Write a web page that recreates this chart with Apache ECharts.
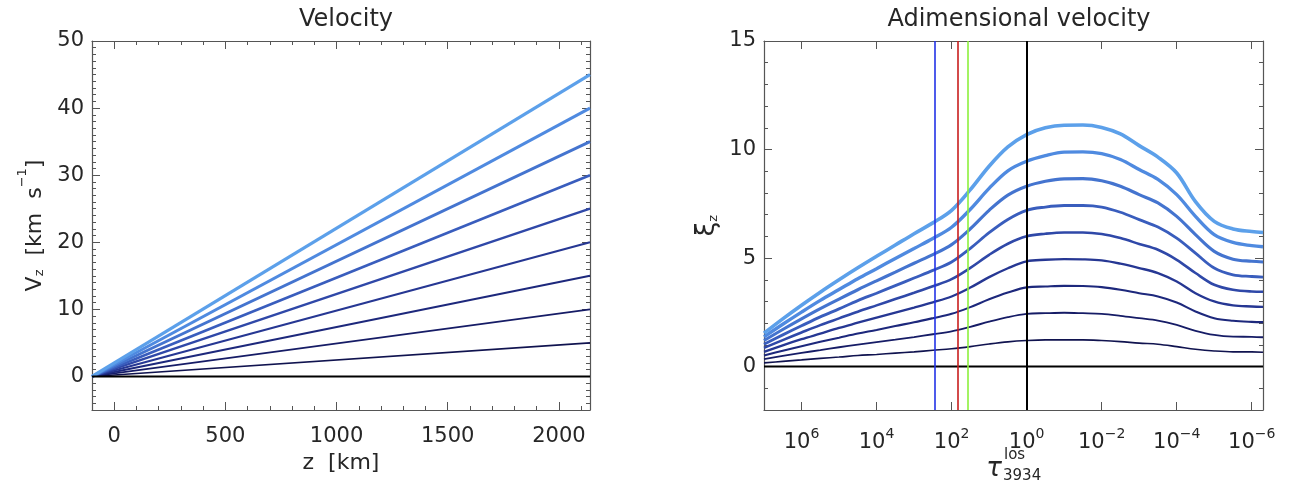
<!DOCTYPE html>
<html>
<head>
<meta charset="utf-8">
<title>Velocity</title>
<script src="https://cdn.jsdelivr.net/npm/echarts@6/dist/echarts.min.js"></script>
<style>html,body{margin:0;background:#fff;}</style>
</head>
<body>
<div id="main" style="width:1290px;height:495px;"></div>
<script type="text/javascript">

// ---- left panel: V_z against z ----
var zRange = [-100, 2140];
var vzEnd = [0, 5, 10, 15, 20, 25, 30, 35, 40, 45];

// ---- right panel: xi_z against log10(tau_3934) ----
var logTau = [7, 6.5, 6, 5.5, 5, 4.5, 4, 3.5, 3, 2.5, 2, 1.5, 1, 0.5,
              0, -0.5, -1, -1.5, -2, -2.5, -3, -3.5, -4, -4.5, -5, -5.5, -6, -6.3];
var xi1 = [0.17, 0.24, 0.31, 0.38, 0.44, 0.51, 0.56, 0.62, 0.68, 0.75, 0.82, 0.92, 1.04, 1.14,
           1.20, 1.23, 1.23, 1.23, 1.20, 1.15, 1.08, 1.03, 0.92, 0.80, 0.72, 0.68, 0.68, 0.66];
var xi2 = [0.34, 0.49, 0.63, 0.76, 0.89, 1.01, 1.13, 1.24, 1.36, 1.49, 1.62, 1.83, 2.07, 2.28,
           2.43, 2.46, 2.48, 2.46, 2.43, 2.34, 2.23, 2.12, 1.92, 1.65, 1.46, 1.38, 1.37, 1.35];
var xi3 = [0.51, 0.73, 0.94, 1.14, 1.33, 1.52, 1.69, 1.87, 2.04, 2.23, 2.43, 2.74, 3.10, 3.41,
           3.65, 3.69, 3.72, 3.71, 3.66, 3.54, 3.38, 3.23, 2.95, 2.54, 2.23, 2.11, 2.06, 2.05];
var xi4 = [0.68, 0.98, 1.26, 1.52, 1.78, 2.02, 2.26, 2.49, 2.72, 2.96, 3.23, 3.64, 4.12, 4.53,
           4.85, 4.92, 4.95, 4.94, 4.89, 4.74, 4.54, 4.31, 3.92, 3.38, 3.00, 2.82, 2.77, 2.75];
var xi5 = [0.86, 1.22, 1.57, 1.91, 2.22, 2.53, 2.82, 3.11, 3.40, 3.70, 4.03, 4.55, 5.15, 5.66,
           6.00, 6.12, 6.18, 6.18, 6.11, 5.92, 5.65, 5.38, 4.92, 4.31, 3.77, 3.54, 3.46, 3.45];
var xi6 = [1.03, 1.46, 1.88, 2.29, 2.66, 3.04, 3.38, 3.73, 4.08, 4.43, 4.82, 5.45, 6.17, 6.78,
           7.20, 7.35, 7.42, 7.42, 7.35, 7.11, 6.77, 6.43, 5.92, 5.23, 4.54, 4.23, 4.15, 4.12];
var xi7 = [1.20, 1.71, 2.20, 2.67, 3.11, 3.54, 3.95, 4.35, 4.76, 5.16, 5.62, 6.35, 7.20, 7.90,
           8.31, 8.54, 8.65, 8.66, 8.56, 8.31, 7.92, 7.54, 6.92, 6.08, 5.31, 4.95, 4.85, 4.82];
var xi8 = [1.37, 1.95, 2.51, 3.05, 3.55, 4.05, 4.51, 4.98, 5.44, 5.90, 6.42, 7.25, 8.21, 9.02,
           9.46, 9.72, 9.88, 9.89, 9.81, 9.54, 9.08, 8.62, 7.92, 6.92, 6.08, 5.72, 5.57, 5.52];
var xi9 = [1.54, 2.20, 2.83, 3.43, 4.00, 4.55, 5.08, 5.60, 6.12, 6.62, 7.20, 8.15, 9.23, 10.12,
           10.69, 11.00, 11.12, 11.13, 11.02, 10.72, 10.18, 9.65, 8.92, 7.60, 6.69, 6.34, 6.22, 6.18];
var xiCurves = [xi1, xi2, xi3, xi4, xi5, xi6, xi7, xi8, xi9];
var tauRange = [-6.3, 7];
var tauMarks = [2.46, 1.83, 1.58, 0];

// styles
var lineColors = ['#000000', '#10134f', '#161c66', '#1d287c', '#263793', '#2f48a8',
                  '#395dbd', '#4474cf', '#4f8ae0', '#5ca0ea'];
var markColors = ['#2233e6', '#c81e1e', '#8cf03c', '#000000'];
var FONT = 'DejaVu Sans';
var INK = '#262626';
var FRAME = '#555';

function supText(s) { return String(s).replace('-', '\u2212'); }

function frameAxis(grid, pos, min, max, o) {
    return {
        type: 'value', gridIndex: grid, position: pos,
        min: min, max: max, inverse: !!o.inverse,
        interval: o.interval, splitNumber: o.split,
        axisLine: {show: !o.minor, onZero: false, lineStyle: {color: FRAME, width: 1.2}},
        axisTick: {show: true, inside: true, length: o.minor ? 4 : 8,
                   lineStyle: {color: FRAME, width: 1}},
        axisLabel: o.label ? o.label : {show: false},
        splitLine: {show: false},
        name: o.name || '', nameLocation: 'middle', nameGap: o.nameGap,
        nameTextStyle: o.nameStyle
    };
}

var tickLabel = {
    show: true, color: INK, fontFamily: FONT, fontSize: 21,
    showMinLabel: false, showMaxLabel: false, margin: 16,
    formatter: function (v) { return String(v); }
};
var yTickLabel = Object.assign({}, tickLabel, {showMaxLabel: true, margin: 8});

var tauLabel = Object.assign({}, tickLabel, {
    margin: 17,
    formatter: function (v) { return '{b|10}{s|' + supText(v) + '}'; },
    rich: {
        b: {fontFamily: FONT, fontSize: 21, color: INK, lineHeight: 26, verticalAlign: 'bottom'},
        s: {fontFamily: FONT, fontSize: 14, color: INK, lineHeight: 14, verticalAlign: 'top'}
    }
});

var nameRich = {
    n: {fontFamily: FONT, fontSize: 22, color: INK, lineHeight: 30, verticalAlign: 'bottom'},
    sub: {fontFamily: FONT, fontSize: 13, color: INK, lineHeight: 13, verticalAlign: 'bottom'},
    sup: {fontFamily: FONT, fontSize: 13, color: INK, lineHeight: 13, verticalAlign: 'top'},
    g: {fontFamily: FONT, fontSize: 26, color: INK, lineHeight: 30, verticalAlign: 'bottom'}
};

var xAxes = [
    frameAxis(0, 'bottom', zRange[0], zRange[1], {split: 4, label: tickLabel,
        name: 'z  [km]', nameGap: 40,
        nameStyle: {fontFamily: FONT, fontSize: 22, color: INK}}),
    frameAxis(0, 'bottom', zRange[0], zRange[1], {minor: true, interval: 100}),
    frameAxis(0, 'top', zRange[0], zRange[1], {split: 4}),
    frameAxis(0, 'top', zRange[0], zRange[1], {minor: true, interval: 100}),
    frameAxis(1, 'bottom', tauRange[0], tauRange[1], {inverse: true, split: 6, label: tauLabel}),
    frameAxis(1, 'top', tauRange[0], tauRange[1], {inverse: true, split: 6})
];

var yAxes = [
    frameAxis(0, 'left', -5, 50, {split: 5, label: yTickLabel,
        name: '{n|V}{sub|z}{n|  [km  s}{sup|\u22121}{n|]}', nameGap: 46,
        nameStyle: {rich: nameRich}}),
    frameAxis(0, 'left', -5, 50, {minor: true, interval: 1}),
    frameAxis(0, 'right', -5, 50, {split: 5}),
    frameAxis(0, 'right', -5, 50, {minor: true, interval: 1}),
    frameAxis(1, 'left', -2, 15, {split: 3, label: yTickLabel,
        name: '{g|\u03be}{sub|z}', nameGap: 44,
        nameStyle: {rich: nameRich}}),
    frameAxis(1, 'left', -2, 15, {minor: true, interval: 1}),
    frameAxis(1, 'right', -2, 15, {split: 3}),
    frameAxis(1, 'right', -2, 15, {minor: true, interval: 1})
];

var series = [];

// straight velocity ramps, all starting at v = 0 on the left edge
vzEnd.forEach(function (v, i) {
    series.push({
        type: 'line', xAxisIndex: 0, yAxisIndex: 0,
        data: [[zRange[0], 0], [zRange[1], v]],
        symbol: 'none', silent: true,
        lineStyle: {color: lineColors[i], width: i === 0 ? 2 : 1.4 + i * 0.2},
        z: i === 0 ? 3 : 2
    });
});

// adimensional velocity curves
xiCurves.forEach(function (arr, i) {
    series.push({
        type: 'line', xAxisIndex: 4, yAxisIndex: 4,
        data: logTau.map(function (t, j) { return [t, arr[j]]; }),
        symbol: 'none', smooth: 0.35, silent: true,
        lineStyle: {color: lineColors[i + 1], width: 1.6 + i * 0.25}
    });
});

// zero line and the vertical tau markers
series.push({
    type: 'line', xAxisIndex: 4, yAxisIndex: 4,
    data: [[tauRange[1], 0], [tauRange[0], 0]],
    symbol: 'none', silent: true, z: 4,
    lineStyle: {color: '#000', width: 2},
    markLine: {
        symbol: ['none', 'none'], silent: true, animation: false,
        label: {show: false},
        data: tauMarks.map(function (t, i) {
            return {xAxis: t, lineStyle: {color: markColors[i], width: i === 3 ? 2 : 1.6, type: 'solid'}};
        })
    }
});

var titleStyle = {fontFamily: FONT, fontSize: 24, fontWeight: 'normal', color: INK};

var option = {
    animation: false,
    backgroundColor: '#fff',
    title: [
        {text: 'Velocity', left: 341, top: 3, textAlign: 'center', textStyle: titleStyle},
        {text: 'Adimensional velocity', left: 1014, top: 3, textAlign: 'center', textStyle: titleStyle}
    ],
    grid: [
        {left: 92, top: 41, width: 498, height: 369},
        {left: 764, top: 41, width: 499, height: 369}
    ],
    xAxis: xAxes,
    yAxis: yAxes,
    series: series,
    // x-axis title of the right panel: tau with stacked "los" / "3934"
    graphic: [
        {type: 'text', x: 994, y: 469, silent: true,
         style: {text: '\u03c4', font: 'italic 26px "DejaVu Sans"', fill: INK,
                 align: 'center', verticalAlign: 'middle'}},
        {type: 'text', x: 1004, y: 455, silent: true,
         style: {text: 'los', font: '15px "DejaVu Sans"', fill: INK,
                 align: 'left', verticalAlign: 'middle'}},
        {type: 'text', x: 1003, y: 476, silent: true,
         style: {text: '3934', font: '15px "DejaVu Sans"', fill: INK,
                 align: 'left', verticalAlign: 'middle'}}
    ]
};

var myChart = echarts.init(document.getElementById('main'), null, {renderer: 'canvas'});
myChart.setOption(option);

</script>
</body>
</html>
